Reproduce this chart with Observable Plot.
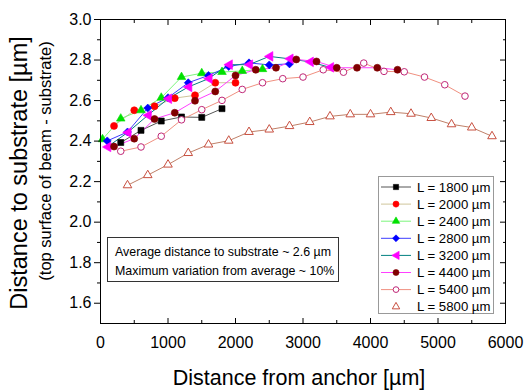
<!DOCTYPE html>
<html><head><meta charset="utf-8">
<script src="https://cdn.jsdelivr.net/npm/d3@7"></script>
<script src="https://cdn.jsdelivr.net/npm/@observablehq/plot@0.6"></script>
<style>
html,body{margin:0;padding:0;background:#fff;}
#chart svg{display:block;}
</style>
</head><body><div id="chart"></div>
<script>
// ---- data ----
const seriesNames = ["L = 1800 µm","L = 2000 µm","L = 2400 µm","L = 2800 µm","L = 3200 µm","L = 4400 µm","L = 5400 µm","L = 5800 µm"];
const x1800 = [300,600,900,1200,1500,1800];
const y1800 = [2.393,2.453,2.499,2.519,2.517,2.560];
const x2000 = [200,500,800,1100,1400,1700,2000];
const y2000 = [2.475,2.552,2.572,2.612,2.626,2.688,2.688];
const x2400 = [30,300,600,900,1200,1500,1800,2100,2400];
const y2400 = [2.409,2.511,2.552,2.614,2.716,2.735,2.741,2.746,2.755];
const x2800 = [100,400,700,1000,1300,1600,1900,2200,2500,2800];
const y2800 = [2.401,2.445,2.563,2.614,2.688,2.724,2.768,2.786,2.776,2.781];
const x3200 = [100,400,700,1000,1300,1600,1900,2200,2500,2800,3100,3400];
const y3200 = [2.371,2.442,2.527,2.609,2.667,2.708,2.777,2.777,2.818,2.806,2.791,2.764];
const x4400 = [200,500,800,1100,1400,1700,2000,2300,2600,2900,3200,3500,3800,4100,4400];
const y4400 = [2.373,2.412,2.509,2.540,2.599,2.645,2.724,2.752,2.762,2.803,2.793,2.762,2.762,2.762,2.752];
const x5400 = [300,600,900,1200,1500,1800,2100,2400,2700,3000,3300,3600,3900,4200,4500,4800,5100,5400];
const y5400 = [2.350,2.371,2.424,2.505,2.555,2.601,2.655,2.688,2.708,2.716,2.752,2.740,2.785,2.744,2.742,2.716,2.678,2.622];
const x5800 = [400,700,1000,1300,1600,1900,2200,2500,2800,3100,3400,3700,4000,4300,4600,4900,5200,5500,5800];
const y5800 = [2.182,2.232,2.284,2.341,2.383,2.402,2.445,2.457,2.474,2.494,2.522,2.532,2.532,2.543,2.535,2.514,2.483,2.467,2.424];

const xTicks = [0,1000,2000,3000,4000,5000,6000];
const xMinor = [500,1500,2500,3500,4500,5500];
const yTicks = [1.6,1.8,2.0,2.2,2.4,2.6,2.8,3.0];
const yMinor = [1.7,1.9,2.1,2.3,2.5,2.7,2.9];
const xTitle = "Distance from anchor [µm]";
const yTitle = "Distance to substrate [µm]";
const ySubTitle = "(top surface of beam - substrate)";
const noteLines = ["Average distance to substrate ~ 2.6 µm","Maximum variation from average ~ 10%"];

// ---- styles ----
const triLeft = {draw(ctx, size){ const h = Math.sqrt(size)*0.8; ctx.moveTo(-h,0); ctx.lineTo(h*0.75,-h); ctx.lineTo(h*0.75,h); ctx.closePath(); }};
const symbols = [d3.symbolSquare, d3.symbolCircle, d3.symbolTriangle, d3.symbolDiamond2, triLeft, d3.symbolCircle, d3.symbolCircle, d3.symbolTriangle];
const radii = [3.4, 3.5, 3.2, 3.6, 3.4, 3.5, 3.3, 3.2];
const lineColors = ["#555555","#cfc59a","#7cf57c","#3c3cff","#008080","#ff40ff","#f09080","#c08068"];
const fillColors = ["#000000","#ff0000","#00e000","#0000ff","#ff00ff","#800000","#ffffff","#ffffff"];
const strokeColors = ["#000000","#ff0000","#00e000","#0000ff","#ff00ff","#800000","#c02878","#c85040"];
const showLegendLine = [true,true,true,true,true,true,true,false];

const xsAll = [x1800,x2000,x2400,x2800,x3200,x4400,x5400,x5800];
const ysAll = [y1800,y2000,y2400,y2800,y3200,y4400,y5400,y5800];
const series = seriesNames.map((name,i)=> xsAll[i].map((x,j)=>({name, x, y: ysAll[i][j]})));

const FONT = "'Liberation Sans', Arial, Helvetica, sans-serif";
const W = 526, H = 390;

const marks = [];
series.forEach((d,i)=>{
  marks.push(Plot.line(d, {x:"x", y:"y", stroke: lineColors[i], strokeWidth: 1}));
});
series.forEach((d,i)=>{
  marks.push(Plot.dot(d, {x:"x", y:"y", symbol: symbols[i], r: radii[i], fill: fillColors[i], stroke: strokeColors[i], strokeWidth: (i>=6?1:0.6)}));
});

const chart = Plot.plot({
  width: W, height: H,
  marginLeft: 100, marginRight: 21, marginTop: 19, marginBottom: 67,
  style: {fontFamily: FONT, fontSize: "16px", color: "black", background: "white"},
  x: {domain: [0,6000]},
  y: {domain: [1.5,3.0]},
  marks: [
    ...marks,
    Plot.frame({stroke: "black", strokeWidth: 1}),
    Plot.axisX(xTicks, {anchor: "bottom", tickSize: 0, tickPadding: 13, label: null, tickFormat: d => String(d)}),
    Plot.axisX(xTicks, {anchor: "bottom", tickSize: -5, fill: "none", label: null}),
    Plot.axisX(xMinor, {anchor: "bottom", tickSize: -3, fill: "none", label: null}),
    Plot.axisX(xTicks, {anchor: "top", tickSize: -5, fill: "none", label: null}),
    Plot.axisX(xMinor, {anchor: "top", tickSize: -3, fill: "none", label: null}),
    Plot.axisY(yTicks, {anchor: "left", tickSize: 6, tickPadding: 3, label: null, tickFormat: d3.format(".1f")}),
    Plot.axisY(yMinor, {anchor: "left", tickSize: 3, fill: "none", label: null}),
    Plot.axisY(yTicks, {anchor: "right", tickSize: -6, fill: "none", label: null}),
    Plot.axisY(yMinor, {anchor: "right", tickSize: -3, fill: "none", label: null})
  ]
});
document.getElementById("chart").appendChild(chart);

// ---- titles, note box and legend ----
const svg = d3.select(chart);
svg.append("text").attr("x", 299).attr("y", 385).attr("text-anchor","middle")
  .attr("font-family", FONT).attr("font-size", 21.5).attr("fill","black").text(xTitle);
svg.append("text").attr("transform","translate(27,173) rotate(-90)").attr("text-anchor","middle")
  .attr("font-family", FONT).attr("font-size", 23.5).attr("fill","black").text(yTitle);
svg.append("text").attr("transform","translate(51,161) rotate(-90)").attr("text-anchor","middle")
  .attr("font-family", FONT).attr("font-size", 16.5).attr("fill","black").text(ySubTitle);

const note = svg.append("g");
note.append("rect").attr("x",107.5).attr("y",237.5).attr("width",231).attr("height",44)
  .attr("fill","white").attr("stroke","#333").attr("stroke-width",1);
noteLines.forEach((t,k)=>{
  note.append("text").attr("x",115).attr("y",256 + k*19).attr("text-anchor","start").attr("font-family",FONT)
    .attr("font-size",12.4).attr("fill","black").text(t);
});

const leg = svg.append("g");
leg.append("rect").attr("x",378.5).attr("y",176.5).attr("width",115).attr("height",137)
  .attr("fill","white").attr("stroke","#999").attr("stroke-width",1);
seriesNames.forEach((name,i)=>{
  const yy = 187 + i*17.1;
  if (showLegendLine[i]) leg.append("line").attr("x1",381).attr("x2",411).attr("y1",yy).attr("y2",yy)
    .attr("stroke", lineColors[i]).attr("stroke-width",1);
  leg.append("path").attr("transform",`translate(396,${yy})`)
    .attr("d", d3.symbol(symbols[i], Math.PI*radii[i]*radii[i]*0.75)())
    .attr("fill", fillColors[i]).attr("stroke", strokeColors[i]).attr("stroke-width", i>=6?1:0.6);
  leg.append("text").attr("x",417).attr("y",yy+4.6).attr("text-anchor","start").attr("font-family",FONT)
    .attr("font-size",13.2).attr("fill","black").text(name);
});
</script>
</body></html>
